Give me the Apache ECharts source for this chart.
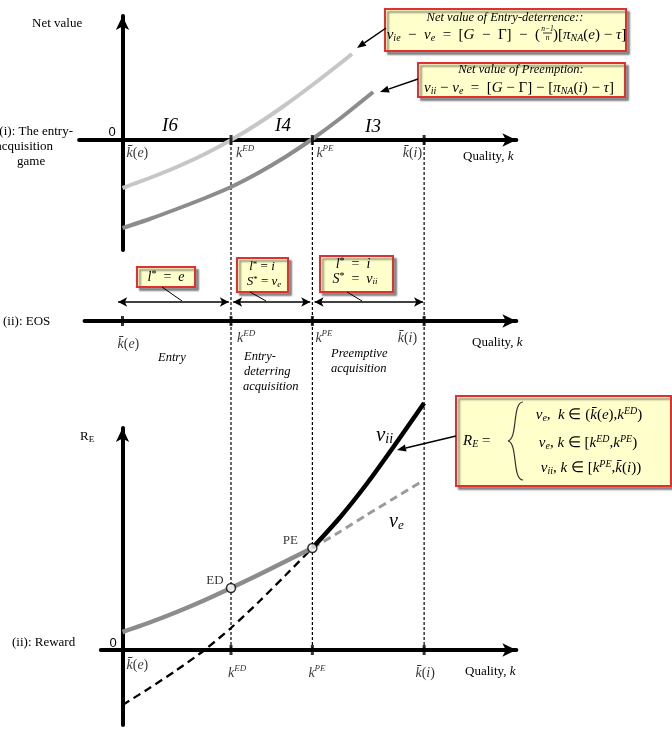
<!DOCTYPE html>
<html><head><meta charset="utf-8">
<script src="https://cdn.jsdelivr.net/npm/echarts@6/dist/echarts.min.js"></script>
<style>html,body{margin:0;padding:0;background:#fff}#c{width:672px;height:739px}</style>
</head><body><div id="c"></div>
<script>
// ---------------- DATA ----------------
const kbarE = 0, kED = 1, kPE = 1.75, kbarI = 2.78;
const tickKs = [kED, kPE, kbarI];
const midTickKs = [kbarE, kED, kPE, kbarI];
// (i) entry-acquisition game: net values
const topK_ED = [0, 0.25, 0.5, 0.75, 1, 1.25, 1.5, 1.75, 2.0, 2.115];
const topNetED = [-0.96, -0.76, -0.54, -0.29, 0, 0.33, 0.70, 1.10, 1.52, 1.72];
const topK_PE = [0, 0.25, 0.5, 0.75, 1, 1.25, 1.5, 1.75, 2.0, 2.31];
const topNetPE = [-1.76, -1.58, -1.38, -1.17, -0.94, -0.66, -0.34, 0.02, 0.42, 0.96];
// (iii) reward
const botK_veSolid = [0, 0.25, 0.5, 0.75, 1, 1.25, 1.5, 1.75];
const botVeSolid = [0.36, 0.55, 0.76, 0.99, 1.24, 1.50, 1.77, 2.04];
const botK_veDash = [1.75, 2.0, 2.25, 2.5, 2.78];
const botVeDash = [2.04, 2.36, 2.70, 3.03, 3.40];
const botK_viiSolid = [1.75, 2.0, 2.25, 2.5, 2.78];
const botViiSolid = [2.04, 2.64, 3.32, 4.07, 4.94];
const botK_viiDash = [0, 0.25, 0.5, 0.75, 1, 1.25, 1.5, 1.75];
const botViiDash = [-1.1, -0.76, -0.40, -0.01, 0.44, 0.95, 1.49, 2.04];
const eqPoints = [[kED, 1.24, 'ED'], [kPE, 2.04, 'PE']];
const regionLabels = ['I6', 'I4', 'I3'];
// --------------------------------------

const zip = (a, b) => a.map((v, i) => [v, b[i]]);
const SERIF = 'Liberation Serif';
function rs(size) {
  return {
    i: {fontFamily: SERIF, fontStyle: 'italic', fontSize: size, color: '#000'},
    r: {fontFamily: SERIF, fontSize: size, color: '#000'},
    sub: {fontFamily: SERIF, fontStyle: 'italic', fontSize: Math.round(size * 0.66), color: '#000', padding: [Math.round(size * 0.42), 0, 0, 0]},
    subr: {fontFamily: SERIF, fontSize: Math.round(size * 0.66), color: '#000', padding: [Math.round(size * 0.42), 0, 0, 0]},
    sup: {fontFamily: SERIF, fontStyle: 'italic', fontSize: Math.round(size * 0.64), color: '#000', padding: [0, 0, Math.round(size * 0.55), 0]},
    supr: {fontFamily: SERIF, fontSize: Math.round(size * 0.7), color: '#000', padding: [0, 0, Math.round(size * 0.35), 0]}
  };
}
const X0 = 122.5, PX = 108.5, XMAX = 3.63;
function grid(min, max, top, height) { return {left: X0 + min * PX, width: (max - min) * PX, top: top, height: height}; }
const AX = {show: true, onZero: true, symbol: ['none', 'arrow'], symbolSize: [10, 14], lineStyle: {color: '#000', width: 4}};
function xAx(gi, min, max, show) {
  return {type: 'value', gridIndex: gi, min: min, max: max, show: show, axisLine: show ? AX : {show: false},
    axisTick: {show: false}, axisLabel: {show: false}, splitLine: {show: false}};
}
function yAx(gi, min, max, show) {
  return {type: 'value', gridIndex: gi, min: min, max: max, show: show, axisLine: show ? AX : {show: false},
    axisTick: {show: false}, axisLabel: {show: false}, splitLine: {show: false}};
}
const KBE = '{i|k\u0304}{r|(}{i|e}{r|)}';
const KBI = '{i|k\u0304}{r|(}{i|i}{r|)}';
const KED = '{i|k}{sup|ED}';
const KPE = '{i|k}{sup|PE}';
function labels(gi, items, size) {
  return {type: 'scatter', xAxisIndex: gi, yAxisIndex: gi, symbolSize: 1, itemStyle: {color: 'rgba(0,0,0,0)'}, silent: true, z: 6,
    data: items.map(it => ({value: [it[0], 0], label: {show: true, position: 'inside', formatter: it[1], offset: it[2], align: it[3] || 'left', verticalAlign: 'middle', rich: rs(size)}}))};
}
function ticks(gi, ks) {
  return {type: 'scatter', xAxisIndex: gi, yAxisIndex: gi, symbol: 'rect', symbolSize: [3, 10], itemStyle: {color: '#000'}, silent: true, z: 5,
    data: ks.map(k => [k, 0])};
}
function curve(gi, data, color, width, type, z) {
  return {type: 'line', xAxisIndex: gi, yAxisIndex: gi, data: data, smooth: 0.25, showSymbol: false, clip: false, silent: true,
    lineStyle: {color: color, width: width, type: type || 'solid', cap: 'butt'}, z: z || 3};
}

// graphic helpers
const G = [];
function txt(x, y, text, size, align, rich, extra) {
  G.push(Object.assign({type: 'text', x: x, y: y, z: 100, style: {text: text, rich: rich || rs(size), fontFamily: SERIF, fontSize: size, fill: '#000',
    align: align || 'left', textAlign: align || 'left', verticalAlign: 'middle', textVerticalAlign: 'middle'}}, extra || {}));
}
function box(x, y, w, h) {
  G.push({type: 'rect', z: 90, shape: {x: x, y: y, width: w, height: h},
    style: {fill: '#FFFFCC', stroke: '#E03030', lineWidth: 2, shadowColor: 'rgba(0,0,0,0.4)', shadowOffsetX: 3, shadowOffsetY: 3, shadowBlur: 2}});
}
function seg(x1, y1, x2, y2, w) {
  G.push({type: 'line', z: 95, shape: {x1: x1, y1: y1, x2: x2, y2: y2}, style: {stroke: '#000', lineWidth: w || 1}});
}
function arrow(x1, y1, x2, y2) {
  const a = Math.atan2(y2 - y1, x2 - x1), L = 9, W = 3.6;
  const bx = x2 - L * Math.cos(a), by = y2 - L * Math.sin(a);
  seg(x1, y1, bx, by, 1.5);
  G.push({type: 'polygon', z: 95, shape: {points: [[x2, y2], [bx + W * Math.sin(a), by - W * Math.cos(a)], [bx - W * Math.sin(a), by + W * Math.cos(a)]]}, style: {fill: '#000'}});
}
function bez(x1, y1, c1x, c1y, c2x, c2y, x2, y2) {
  G.push({type: 'bezierCurve', z: 96, shape: {x1: x1, y1: y1, cpx1: c1x, cpy1: c1y, cpx2: c2x, cpy2: c2y, x2: x2, y2: y2}, style: {stroke: '#333', fill: null, lineWidth: 1.2}});
}
const ZERO_STYLE = {fontFamily: 'Liberation Sans', fontSize: 13, fill: '#000', align: 'center', textAlign: 'center', verticalAlign: 'middle', textVerticalAlign: 'middle'};

// ---- Panel texts ----
txt(32, 24, 'Net value', 13);
txt(73, 132, '(i): The entry-', 13, 'right');
txt(53, 147, 'acquisition', 13, 'right');
txt(17, 162, 'game', 13);
G.push({type: 'text', x: 112, y: 132, z: 100, style: Object.assign({text: '0'}, ZERO_STYLE)});
txt(170, 126, '{i|' + regionLabels[0] + '}', 19, 'center');
txt(283, 126, '{i|' + regionLabels[1] + '}', 19, 'center');
txt(373, 127, '{i|' + regionLabels[2] + '}', 19, 'center');
txt(463, 157, '{r|Quality, }{i|k}', 13);
txt(3, 322, '{r|(ii): EOS}', 13);
txt(472, 343, '{r|Quality, }{i|k}', 13);
txt(158, 358, '{i|Entry}', 12.5);
txt(244, 357, '{i|Entry-}', 12.5);
txt(244, 372, '{i|deterring}', 12.5);
txt(243, 387, '{i|acquisition}', 12.5);
txt(331, 354, '{i|Preemptive}', 12.5);
txt(331, 369, '{i|acquisition}', 12.5);
txt(80, 437, '{r|R}{subr|E}', 13);
G.push({type: 'text', x: 113, y: 643, z: 100, style: Object.assign({text: '0'}, ZERO_STYLE)});
txt(12, 643, '{r|(ii): Reward}', 13);
txt(465, 672, '{r|Quality, }{i|k}', 13);
txt(376, 435, '{i|v}{sub|ii}', 21);
txt(389, 522, '{i|v}{sub|e}', 20);

// ---- Callouts ----
box(385, 9, 241, 42);
txt(505, 18, '{i|Net value of Entry-deterrence::}', 12.5, 'center');
txt(540, 35, '{i|v}{sub|ie}{r|  −  }{i|v}{sub|e}{r|  =  [}{i|G}{r|  −  Γ]  −  (}', 15, 'right');
txt(547.5, 29, '{i|n−1}', 7.5, 'center');
seg(543, 33, 552, 33, 0.8);
txt(547.5, 38, '{i|n}', 7.5, 'center');
txt(553, 35, '{r|)[}{i|π}{sub|NA}{r|(}{i|e}{r|) − }{i|τ}{r|]}', 15, 'left');
arrow(386, 28, 357, 48);

box(418, 63, 207, 34);
txt(521, 70, '{i|Net value of Preemption:}', 12.5, 'center');
txt(519, 88, '{i|v}{sub|ii}{r| − }{i|v}{sub|e}{r|  =  [}{i|G}{r| − Γ] − [}{i|π}{sub|NA}{r|(}{i|i}{r|) − }{i|τ}{r|]}', 15, 'center');
arrow(418, 79, 380, 92);

box(137, 267, 58, 20);
txt(166, 277, '{i|l}{supr|*}{r|  =  }{i|e}', 14, 'center');
seg(162, 287, 182, 301);
box(237, 258, 51, 34);
txt(262, 267, '{i|l}{supr|*}{r| = }{i|i}', 13, 'center');
txt(264, 282, '{i|S}{supr|*}{r| = }{i|v}{sub|e}', 13, 'center');
seg(250, 292, 266, 301);
box(320, 256, 73, 36);
txt(353, 264, '{i|l}{supr|*}{r|  =  }{i|i}', 14, 'center');
txt(355, 279, '{i|S}{supr|*}{r|  =  }{i|v}{sub|ii}', 14, 'center');
seg(347, 292, 362, 301);

box(456, 396, 215, 90);
txt(463, 441, '{i|R}{sub|E}{r| =}', 15);
bez(523, 402, 512, 402, 518, 439, 508, 441);
bez(508, 441, 518, 443, 512, 480, 523, 480);
txt(589, 415, '{i|v}{sub|e}{r|,  }{i|k}{r| ∈ (}' + KBE + '{r|,}' + KED + '{r|)}', 15, 'center');
txt(588, 443, '{i|v}{sub|e}{r|, }{i|k}{r| ∈ [}' + KED + '{r|,}' + KPE + '{r|)}', 15, 'center');
txt(591, 468, '{i|v}{sub|ii}{r|, }{i|k}{r| ∈ [}' + KPE + '{r|,}' + KBI + '{r|)}', 15, 'center');
arrow(456, 436, 397, 450);

const series = [
  curve(0, zip(topK_ED, topNetED), '#C6C6C6', 4),
  curve(0, zip(topK_PE, topNetPE), '#8C8C8C', 4),
  ticks(0, tickKs),
  labels(0, [[kbarE, KBE, [4, 13]], [kED, KED, [5, 13]], [kPE, KPE, [4, 13]], [kbarI, KBI, [-2, 13], 'right']], 14),
  ticks(1, midTickKs),
  labels(1, [[kbarE, KBE, [-5, 23]], [kED, KED, [6, 17]], [kPE, KPE, [3, 17]], [kbarI, KBI, [-7, 17], 'right']], 14),
  {type: 'line', xAxisIndex: 1, yAxisIndex: 1, data: [], silent: true,
    markLine: {silent: true, symbol: ['arrow', 'arrow'], symbolSize: [7, 9], label: {show: false}, lineStyle: {color: '#000', width: 1.6, type: 'solid'},
      data: [[{coord: [kbarE - 0.04, 0.76]}, {coord: [kED - 0.02, 0.76]}], [{coord: [kED + 0.02, 0.76]}, {coord: [kPE - 0.02, 0.76]}], [{coord: [kPE + 0.02, 0.76]}, {coord: [kbarI - 0.01, 0.76]}]]}},
  curve(2, zip(botK_viiDash, botViiDash), '#000', 2.3, [8, 5], 3),
  curve(2, zip(botK_veDash, botVeDash), '#9A9A9A', 3, [8, 5], 3),
  curve(2, zip(botK_veSolid, botVeSolid), '#8C8C8C', 4.5, 'solid', 4),
  curve(2, zip(botK_viiSolid, botViiSolid), '#000', 4.5, 'solid', 4),
  ticks(2, tickKs),
  labels(2, [[kbarE, KBE, [4, 15]], [kED, KED, [-3, 23]], [kPE, KPE, [-4, 23]], [kbarI, KBI, [1, 23], 'center']], 14),
  {type: 'scatter', xAxisIndex: 2, yAxisIndex: 2, symbol: 'circle', symbolSize: 9, silent: true, z: 8,
    itemStyle: {color: '#fff', borderColor: '#000', borderWidth: 1.5},
    data: eqPoints.map(p => ({value: [p[0], p[1]], label: {show: true, formatter: p[2], position: 'inside', offset: p[2] === 'ED' ? [-16, -7] : [-22, -7], fontFamily: SERIF, fontSize: 13, color: '#000'}}))}
];
tickKs.forEach(k => series.push({type: 'line', xAxisIndex: 3, yAxisIndex: 3, data: [[k, 0], [k, 1]], showSymbol: false, silent: true, z: 1,
  lineStyle: {color: '#000', width: 1.2, type: [3, 2]}}));

const chart = echarts.init(document.getElementById('c'), null, {renderer: 'canvas'});
chart.setOption({
  animation: false,
  backgroundColor: '#fff',
  grid: [grid(-0.4, XMAX, 16, 234), grid(-0.35, XMAX, 296, 25), grid(-0.2, XMAX, 428, 297), grid(-0.4, XMAX, 140, 510)],
  xAxis: [xAx(0, -0.4, XMAX, true), xAx(1, -0.35, XMAX, true), xAx(2, -0.2, XMAX, true), xAx(3, -0.4, XMAX, false)],
  yAxis: [yAx(0, -2.2, 2.48, true), yAx(1, 0, 1, false), yAx(2, -1.5, 4.44, true), yAx(3, 0, 1, false)],
  series: series,
  graphic: {elements: G}
});
</script></body></html>
